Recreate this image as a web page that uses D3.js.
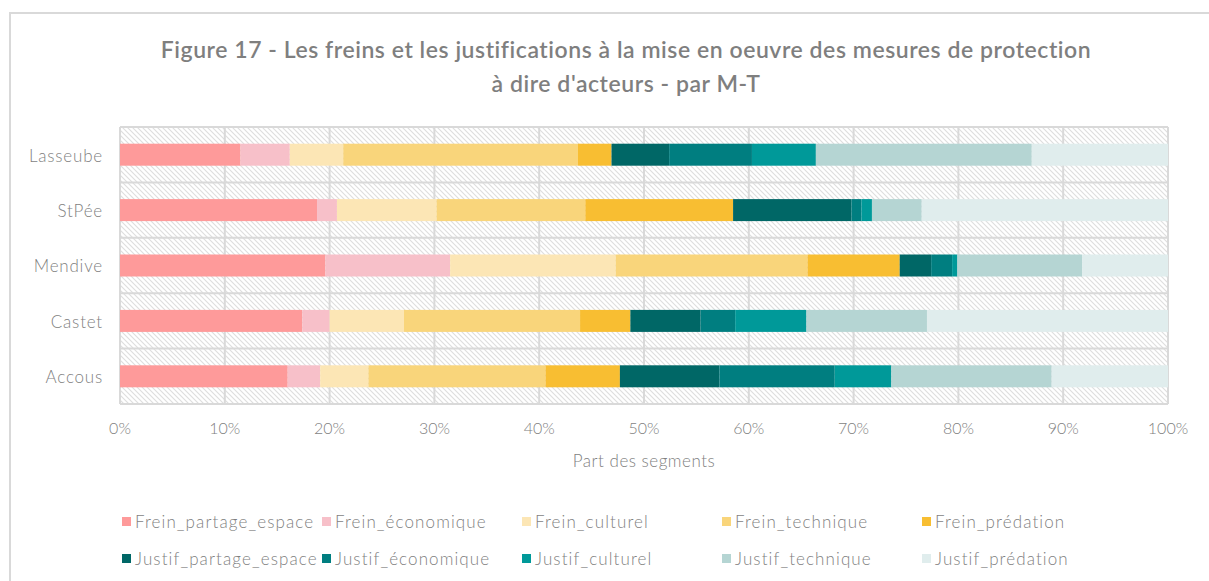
<!DOCTYPE html>
<html><head><meta charset="utf-8">
<script src="https://cdn.jsdelivr.net/npm/d3@7"></script>
<style>
html,body{margin:0;padding:0;background:#fff;}
text{font-family:"Lato","Open Sans",sans-serif;}
</style></head>
<body>
<svg id="chart" width="1209" height="581"></svg>
<script>
const categories = ["Lasseube","StPée","Mendive","Castet","Accous"];
const seriesNames = ["Frein_partage_espace","Frein_économique","Frein_culturel","Frein_technique","Frein_prédation",
  "Justif_partage_espace","Justif_économique","Justif_culturel","Justif_technique","Justif_prédation"];
const seriesColors = ["#fe9a9a","#f7c0c9","#fce6b5","#f9d57b","#f8be32","#006766","#007e80","#009999","#b5d5d3","#e0eded"];
const Frein_partage_espace = [11.5,18.8,19.6,17.4,16.0];
const Frein_economique     = [4.7, 1.9, 11.9,2.6, 3.1];
const Frein_culturel       = [5.1, 9.5, 15.8,7.1, 4.6];
const Frein_technique      = [22.4,14.2,18.3,16.8,16.9];
const Frein_predation      = [3.2, 14.1,8.8, 4.8, 7.1];
const Justif_partage_espace= [5.5, 11.3,3.0, 6.7, 9.5];
const Justif_economique    = [7.9, 0.95,2.0, 3.3, 11.0];
const Justif_culturel      = [6.1, 1.0, 0.5, 6.8, 5.4];
const Justif_technique     = [20.6,4.75,11.9,11.5,15.3];
const Justif_predation     = [13.0,23.5,8.2, 23.0,11.1];
const xTicks = [0,10,20,30,40,50,60,70,80,90,100];
const titleLines = ["Figure 17 - Les freins et les justifications à la mise en oeuvre des mesures de protection","à dire d'acteurs - par M-T"];
const xLabel = "Part des segments";

const seriesValues = [Frein_partage_espace,Frein_economique,Frein_culturel,Frein_technique,Frein_predation,
  Justif_partage_espace,Justif_economique,Justif_culturel,Justif_technique,Justif_predation];
const rows = categories.map((c,i)=>{const r={cat:c}; seriesNames.forEach((s,j)=>r[s]=seriesValues[j][i]); return r;});

const svg = d3.select("#chart");
// outer frame
svg.append("path").attr("d","M10,1000 V13 H1300").attr("fill","none").attr("stroke","#d9d9d9").attr("stroke-width",2);

const defs = svg.append("defs");
const pat = defs.append("pattern").attr("id","hatch").attr("patternUnits","userSpaceOnUse")
  .attr("width",5).attr("height",5);
pat.append("rect").attr("width",5).attr("height",5).attr("fill","#fff");
pat.append("path").attr("d","M0,0 L5,5 M-2.5,2.5 L2.5,7.5 M2.5,-2.5 L7.5,2.5").attr("stroke","#dedede").attr("stroke-width",1.1);

const L=120,R=1168,T=127,B=404;
const x = d3.scaleLinear().domain([0,100]).range([L,R]);
const y = d3.scaleBand().domain(categories).range([T,B]).paddingInner(0).paddingOuter(0);

svg.append("rect").attr("x",L).attr("y",T).attr("width",R-L).attr("height",B-T).attr("fill","url(#hatch)");
// grid
svg.append("g").selectAll("line").data(xTicks).join("line")
  .attr("x1",d=>x(d)).attr("x2",d=>x(d)).attr("y1",T).attr("y2",B).attr("stroke","#d9d9d9").attr("stroke-width",2);
svg.append("g").selectAll("line").data(d3.range(categories.length+1)).join("line")
  .attr("x1",L).attr("x2",R).attr("y1",i=>T+i*y.step()).attr("y2",i=>T+i*y.step()).attr("stroke","#d9d9d9").attr("stroke-width",2);

const stack = d3.stack().keys(seriesNames)(rows);
const barH = 22;
svg.append("g").selectAll("g").data(stack).join("g").attr("fill",(d,i)=>seriesColors[i])
  .selectAll("rect").data(d=>d).join("rect")
  .attr("x",d=>x(d[0])).attr("width",d=>x(d[1])-x(d[0]))
  .attr("y",d=>y(d.data.cat)+y.bandwidth()/2-barH/2).attr("height",barH);

// category labels
svg.append("g").selectAll("text").data(categories).join("text")
  .attr("x",103).attr("y",d=>y(d)+y.bandwidth()/2+1).attr("dy","0.35em").attr("text-anchor","end")
  .attr("fill","#7f7f7f").attr("font-size",17).attr("letter-spacing",0.8).attr("font-weight",300).text(d=>d);

// x axis tick labels
svg.append("g").selectAll("text").data(xTicks).join("text")
  .attr("x",d=>x(d)).attr("y",434).attr("text-anchor","middle")
  .attr("fill","#7f7f7f").attr("font-size",16).attr("font-weight",300).text(d=>d+"%");
svg.append("text").attr("x",(L+R)/2).attr("y",467).attr("text-anchor","middle")
  .attr("fill","#7f7f7f").attr("font-size",17).attr("letter-spacing",0.5).attr("font-weight",300).text(xLabel);

// title
svg.append("g").selectAll("text").data(titleLines).join("text")
  .attr("x",626).attr("y",(d,i)=>58+i*34).attr("text-anchor","middle")
  .attr("fill","#7f7f7f").attr("font-size",23).attr("letter-spacing",0.55).attr("font-weight",600).text(d=>d);

// legend
const leg = svg.append("g").selectAll("g").data(seriesNames).join("g")
  .attr("transform",(d,i)=>`translate(${122+(i%5)*200},${522+Math.floor(i/5)*37})`);
leg.append("rect").attr("x",0).attr("y",-5).attr("width",9).attr("height",9).attr("fill",(d,i)=>seriesColors[i]);
leg.append("text").attr("x",13).attr("y",0).attr("dy","0.35em").attr("fill","#7f7f7f")
  .attr("font-size",17).attr("letter-spacing",1.1).attr("font-weight",300).text(d=>d);
</script>
</body></html>
